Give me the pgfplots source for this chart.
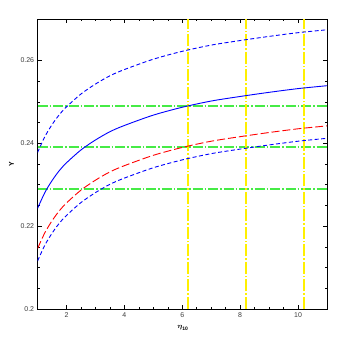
\documentclass[border=0pt]{standalone}
\usepackage{pgfplots}
\pgfplotsset{compat=1.18}
\usepackage{amsmath}
\usepackage{fontspec}
\setmainfont{Liberation Sans}
\definecolor{lgreen}{RGB}{70,235,70}
\definecolor{yel}{RGB}{255,240,0}
\definecolor{tickgray}{RGB}{60,60,60}

\pgfplotstableread{
x     mid     low1    up      low2
1     0.2243  0.2146  0.2378  0.2116
1.25  0.2281  0.2184  0.2416  0.2154
1.5   0.2310  0.2213  0.2445  0.2183
1.75  0.2334  0.2237  0.2469  0.2207
2     0.2353  0.2256  0.2488  0.2226
2.5   0.2384  0.2287  0.2519  0.2257
3     0.2408  0.2311  0.2543  0.2281
3.5   0.2428  0.2331  0.2563  0.2301
4     0.2443  0.2346  0.2578  0.2316
5     0.2468  0.2371  0.2603  0.2341
6     0.2487  0.2390  0.2622  0.2360
7     0.2502  0.2405  0.2637  0.2375
8     0.2513  0.2416  0.2648  0.2386
9     0.2523  0.2426  0.2658  0.2396
10    0.2532  0.2435  0.2667  0.2405
11    0.2539  0.2442  0.2674  0.2412
}\curves

\begin{document}
\begin{tikzpicture}
  \begin{axis}[
    scale only axis,
    width=289.4bp, height=290bp,
    xmin=1, xmax=11, ymin=0.2, ymax=0.27,
    xtick={2,4,6,8,10}, ytick={0.2,0.22,0.24,0.26},
    yticklabels={0.2,0.22,0.24,0.26},
    minor x tick num=3, minor y tick num=3,
    tick align=inside,
    major tick length=4bp, minor tick length=2bp,
    axis line style={line width=0.9bp},
    every tick/.style={black, line width=0.6bp},
    ticklabel style={font=\fontsize{7}{8}\selectfont, text=tickgray},
    /pgf/number format/assume math mode=true,
    xlabel={$\boldsymbol{\eta}_{\mathbf{10}}$},
    xlabel style={font=\fontsize{7}{8}\selectfont, at={(axis description cs:0.502,-0.066)}, anchor=center},
    ylabel={\textbf{Y}},
    ylabel style={font=\fontsize{7}{8}\selectfont, at={(axis description cs:-0.09,0.5)}, anchor=center},
    gline/.style={lgreen, line width=1.9bp, dash pattern=on 10bp off 2bp on 1.5bp off 2bp},
    yline/.style={yel, line width=1.6bp, dash pattern=on 12bp off 2bp on 1.5bp off 2bp},
  ]
    % horizontal green reference lines
    \addplot[gline] coordinates {(1,0.249) (11,0.249)};
    \addplot[gline] coordinates {(1,0.2391) (11,0.2391)};
    \addplot[gline] coordinates {(1,0.229) (11,0.229)};
    % vertical yellow lines
    \addplot[yline] coordinates {(6.2,0.2) (6.2,0.27)};
    \addplot[yline] coordinates {(8.2,0.2) (8.2,0.27)};
    \addplot[yline] coordinates {(10.2,0.2) (10.2,0.27)};
    % curves
    \addplot[blue, line width=0.9bp, smooth, dash pattern=on 4bp off 2.5bp] table[x=x, y=up] {\curves};
    \addplot[blue, line width=0.9bp, smooth] table[x=x, y=mid] {\curves};
    \addplot[red, line width=0.9bp, smooth, dash pattern=on 8bp off 3bp] table[x=x, y=low1] {\curves};
    \addplot[blue, line width=0.9bp, smooth, dash pattern=on 4bp off 2.5bp] table[x=x, y=low2] {\curves};
  \end{axis}
  \path (-37.6bp,-37bp) rectangle (308.4bp,309bp);
\end{tikzpicture}
\end{document}
